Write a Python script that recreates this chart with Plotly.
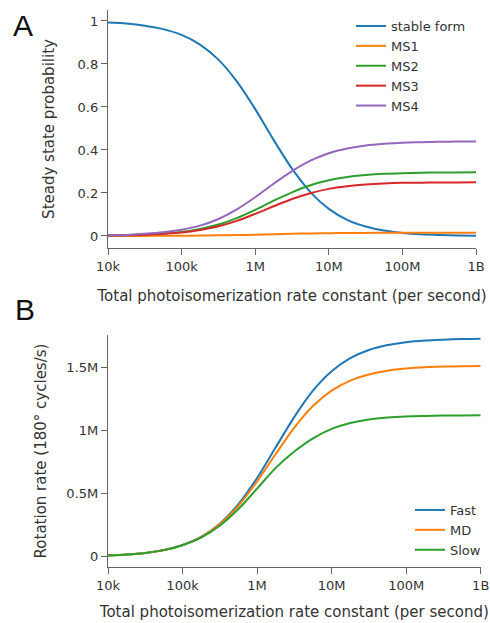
import plotly.graph_objects as go

# ---------------- data ----------------
rate_constant = [1e4, 1.778e4, 3.162e4, 5.623e4, 1e5, 1.778e5, 3.162e5, 5.623e5,
                 1e6, 1.778e6, 3.162e6, 5.623e6, 1e7, 1.778e7, 3.162e7, 5.623e7,
                 1e8, 1.778e8, 3.162e8, 5.623e8, 1e9]

stable_form = [0.993, 0.988, 0.978, 0.962, 0.935, 0.890, 0.820, 0.719, 0.590, 0.447, 0.313,
               0.204, 0.126, 0.075, 0.044, 0.025, 0.014, 0.008, 0.0045, 0.0025, 0.0014]
ms1 = [0.000, 0.000, 0.000, 0.001, 0.001, 0.002, 0.003, 0.004, 0.006, 0.008, 0.010,
       0.012, 0.013, 0.014, 0.014, 0.015, 0.015, 0.015, 0.015, 0.015, 0.015]
ms2 = [0.002, 0.004, 0.007, 0.011, 0.019, 0.033, 0.053, 0.083, 0.121, 0.164, 0.203,
       0.236, 0.259, 0.274, 0.283, 0.289, 0.292, 0.294, 0.295, 0.295, 0.296]
ms3 = [0.002, 0.003, 0.006, 0.010, 0.016, 0.028, 0.045, 0.070, 0.103, 0.138, 0.172,
       0.199, 0.219, 0.231, 0.239, 0.244, 0.247, 0.248, 0.249, 0.249, 0.250]
ms4 = [0.003, 0.005, 0.010, 0.017, 0.029, 0.048, 0.079, 0.124, 0.180, 0.243, 0.302,
       0.350, 0.385, 0.407, 0.421, 0.429, 0.434, 0.436, 0.438, 0.439, 0.439]

# rotation rates in millions of 180-degree cycles per second
fast_m = [0.010, 0.017, 0.030, 0.053, 0.093, 0.158, 0.262, 0.418, 0.625, 0.868, 1.110,
          1.318, 1.472, 1.576, 1.641, 1.680, 1.703, 1.716, 1.723, 1.728, 1.730]
md_m = [0.010, 0.017, 0.030, 0.053, 0.092, 0.156, 0.257, 0.405, 0.598, 0.815, 1.025,
        1.196, 1.318, 1.398, 1.447, 1.477, 1.494, 1.504, 1.509, 1.512, 1.514]
slow_m = [0.010, 0.017, 0.030, 0.052, 0.091, 0.152, 0.246, 0.378, 0.540, 0.705, 0.835,
          0.940, 1.015, 1.062, 1.090, 1.105, 1.113, 1.117, 1.120, 1.121, 1.122]

state_names = ["stable form", "MS1", "MS2", "MS3", "MS4"]
rate_names = ["Fast", "MD", "Slow"]

x_tickvals = [1e4, 1e5, 1e6, 1e7, 1e8, 1e9]
x_ticktext = ["10k", "100k", "1M", "10M", "100M", "1B"]
a_tickvals = [0, 0.2, 0.4, 0.6, 0.8, 1]
a_ticktext = ["0", "0.2", "0.4", "0.6", "0.8", "1"]
b_tickvals_m = [0, 0.5, 1, 1.5]
b_ticktext = ["0", "0.5M", "1M", "1.5M"]

colors = ["#1f77b4", "#ff7f0e", "#2ca02c", "#d62728", "#9467bd"]

# ---------------- figure ----------------
W, H = 490, 623
FONT = "DejaVu Sans"
fig = go.Figure()

for name, ys, c in zip(state_names, [stable_form, ms1, ms2, ms3, ms4], colors):
    fig.add_trace(go.Scatter(x=rate_constant, y=ys, mode="lines", name=name,
                             line=dict(color=c, width=2, shape="spline", smoothing=0.8),
                             xaxis="x", yaxis="y", legend="legend"))

for name, ys, c in zip(rate_names, [fast_m, md_m, slow_m], colors[:3]):
    fig.add_trace(go.Scatter(x=rate_constant, y=[v * 1e6 for v in ys], mode="lines", name=name,
                             line=dict(color=c, width=2, shape="spline", smoothing=0.8),
                             xaxis="x2", yaxis="y2", legend="legend2"))

axis_common = dict(showline=True, linecolor="#666666", linewidth=1.3, ticks="outside",
                   ticklen=6, tickwidth=1.3, tickcolor="#666666", showgrid=False,
                   zeroline=False, automargin=False,
                   tickfont=dict(family=FONT, size=13, color="#333333"))

xtitle = "Total photoisomerization rate constant (per second)"
title_font = dict(family=FONT, size=15, color="#333333")


def px_x(p):
    return p / W


def px_y(p):
    return 1 - p / H


fig.update_layout(
    width=W, height=H,
    margin=dict(l=0, r=0, t=0, b=0),
    paper_bgcolor="white", plot_bgcolor="white",
    font=dict(family=FONT, size=13, color="#333333"),
    xaxis=dict(type="log", range=[4, 9], domain=[px_x(108), px_x(476)], anchor="y",
               tickvals=x_tickvals, ticktext=x_ticktext,
               title=dict(text=xtitle, font=title_font, standoff=17),
               **axis_common),
    yaxis=dict(range=[-0.056, 1.051], domain=[px_y(248), px_y(10)], anchor="x",
               tickvals=a_tickvals, ticktext=a_ticktext,
               title=dict(text="Steady state probability", font=title_font, standoff=19),
               **axis_common),
    xaxis2=dict(type="log", range=[4, 9], domain=[px_x(108), px_x(480.7)], anchor="y2",
                tickvals=x_tickvals, ticktext=x_ticktext,
                title=dict(text=xtitle, font=title_font, standoff=14),
                **axis_common),
    yaxis2=dict(range=[-0.082e6, 1.760e6], domain=[px_y(567), px_y(335)], anchor="x2",
                tickvals=[v * 1e6 for v in b_tickvals_m], ticktext=b_ticktext,
                title=dict(text="Rotation rate (180° cycles/s)", font=title_font, standoff=16),
                **axis_common),
    legend=dict(x=px_x(351), y=px_y(11), xanchor="left", yanchor="top",
                bgcolor="rgba(0,0,0,0)", font=dict(family=FONT, size=13, color="#333333"),
                itemwidth=30, tracegroupgap=0),
    legend2=dict(x=px_x(410), y=px_y(495), xanchor="left", yanchor="top",
                 bgcolor="rgba(0,0,0,0)", font=dict(family=FONT, size=13, color="#333333"),
                 itemwidth=30, tracegroupgap=0),
    showlegend=True,
    annotations=[
        dict(text="A", x=px_x(23), y=px_y(25), xref="paper", yref="paper", showarrow=False,
             xanchor="center", yanchor="middle", font=dict(family="Liberation Sans", size=30, color="#111111")),
        dict(text="B", x=px_x(25), y=px_y(309), xref="paper", yref="paper", showarrow=False,
             xanchor="center", yanchor="middle", font=dict(family="Liberation Sans", size=30, color="#111111")),
    ],
)

fig.write_html("out.html")
